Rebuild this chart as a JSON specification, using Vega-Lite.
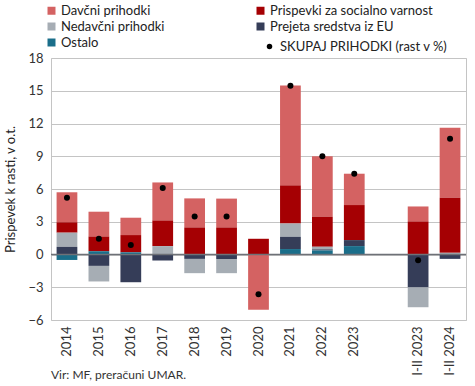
{
  "$schema": "https://vega.github.io/schema/vega-lite/v6.json",
  "autosize": {"type": "none"},
  "width": 415,
  "height": 262,
  "padding": {"left": 51, "top": 58, "right": 9, "bottom": 66},
  "config": {
    "font": "Lato",
    "view": {"stroke": "#c4c4c4", "strokeWidth": 1},
    "axis": {"labelFont": "Lato", "titleFont": "Lato", "labelColor": "#333333", "titleColor": "#222222", "domain": false, "ticks": false}
  },
  "title": {"text": "Vir: MF, preračuni UMAR.", "orient": "bottom", "anchor": "start", "frame": "group", "fontSize": 12, "fontWeight": "normal", "font": "Lato", "color": "#333333", "offset": -5},
  "datasets": {
    "parts": [
      {"cat": "2014", "comp": "Davčni prihodki", "val": 2.75, "o": 5},
      {"cat": "2014", "comp": "Prispevki za socialno varnost", "val": 0.95, "o": 4},
      {"cat": "2014", "comp": "Nedavčni prihodki", "val": 1.3, "o": 3},
      {"cat": "2014", "comp": "Prejeta sredstva iz EU", "val": 0.7, "o": 2},
      {"cat": "2014", "comp": "Ostalo", "val": -0.5, "o": 1},
      {"cat": "2015", "comp": "Davčni prihodki", "val": 2.27, "o": 5},
      {"cat": "2015", "comp": "Prispevki za socialno varnost", "val": 1.35, "o": 4},
      {"cat": "2015", "comp": "Nedavčni prihodki", "val": -1.43, "o": 3},
      {"cat": "2015", "comp": "Prejeta sredstva iz EU", "val": -1.04, "o": 2},
      {"cat": "2015", "comp": "Ostalo", "val": 0.3, "o": 1},
      {"cat": "2016", "comp": "Davčni prihodki", "val": 1.59, "o": 5},
      {"cat": "2016", "comp": "Prispevki za socialno varnost", "val": 1.58, "o": 4},
      {"cat": "2016", "comp": "Nedavčni prihodki", "val": 0.0, "o": 3},
      {"cat": "2016", "comp": "Prejeta sredstva iz EU", "val": -2.54, "o": 2},
      {"cat": "2016", "comp": "Ostalo", "val": 0.2, "o": 1},
      {"cat": "2017", "comp": "Davčni prihodki", "val": 3.48, "o": 5},
      {"cat": "2017", "comp": "Prispevki za socialno varnost", "val": 2.35, "o": 4},
      {"cat": "2017", "comp": "Nedavčni prihodki", "val": 0.77, "o": 3},
      {"cat": "2017", "comp": "Prejeta sredstva iz EU", "val": -0.55, "o": 2},
      {"cat": "2017", "comp": "Ostalo", "val": 0.0, "o": 1},
      {"cat": "2018", "comp": "Davčni prihodki", "val": 2.66, "o": 5},
      {"cat": "2018", "comp": "Prispevki za socialno varnost", "val": 2.48, "o": 4},
      {"cat": "2018", "comp": "Nedavčni prihodki", "val": -1.31, "o": 3},
      {"cat": "2018", "comp": "Prejeta sredstva iz EU", "val": -0.4, "o": 2},
      {"cat": "2018", "comp": "Ostalo", "val": 0.0, "o": 1},
      {"cat": "2019", "comp": "Davčni prihodki", "val": 2.64, "o": 5},
      {"cat": "2019", "comp": "Prispevki za socialno varnost", "val": 2.48, "o": 4},
      {"cat": "2019", "comp": "Nedavčni prihodki", "val": -1.3, "o": 3},
      {"cat": "2019", "comp": "Prejeta sredstva iz EU", "val": -0.41, "o": 2},
      {"cat": "2019", "comp": "Ostalo", "val": 0.0, "o": 1},
      {"cat": "2020", "comp": "Davčni prihodki", "val": -5.07, "o": 5},
      {"cat": "2020", "comp": "Prispevki za socialno varnost", "val": 1.44, "o": 4},
      {"cat": "2020", "comp": "Nedavčni prihodki", "val": 0.0, "o": 3},
      {"cat": "2020", "comp": "Prejeta sredstva iz EU", "val": 0.0, "o": 2},
      {"cat": "2020", "comp": "Ostalo", "val": 0.0, "o": 1},
      {"cat": "2021", "comp": "Davčni prihodki", "val": 9.15, "o": 5},
      {"cat": "2021", "comp": "Prispevki za socialno varnost", "val": 3.49, "o": 4},
      {"cat": "2021", "comp": "Nedavčni prihodki", "val": 1.22, "o": 3},
      {"cat": "2021", "comp": "Prejeta sredstva iz EU", "val": 1.12, "o": 2},
      {"cat": "2021", "comp": "Ostalo", "val": 0.5, "o": 1},
      {"cat": "2022", "comp": "Davčni prihodki", "val": 5.53, "o": 5},
      {"cat": "2022", "comp": "Prispevki za socialno varnost", "val": 2.75, "o": 4},
      {"cat": "2022", "comp": "Nedavčni prihodki", "val": 0.24, "o": 3},
      {"cat": "2022", "comp": "Prejeta sredstva iz EU", "val": 0.1, "o": 2},
      {"cat": "2022", "comp": "Ostalo", "val": 0.37, "o": 1},
      {"cat": "2023", "comp": "Davčni prihodki", "val": 2.87, "o": 5},
      {"cat": "2023", "comp": "Prispevki za socialno varnost", "val": 3.21, "o": 4},
      {"cat": "2023", "comp": "Nedavčni prihodki", "val": 0.0, "o": 3},
      {"cat": "2023", "comp": "Prejeta sredstva iz EU", "val": 0.55, "o": 2},
      {"cat": "2023", "comp": "Ostalo", "val": 0.77, "o": 1},
      {"cat": "I-II 2023", "comp": "Davčni prihodki", "val": 1.37, "o": 5},
      {"cat": "I-II 2023", "comp": "Prispevki za socialno varnost", "val": 3.03, "o": 4},
      {"cat": "I-II 2023", "comp": "Nedavčni prihodki", "val": -1.84, "o": 3},
      {"cat": "I-II 2023", "comp": "Prejeta sredstva iz EU", "val": -2.99, "o": 2},
      {"cat": "I-II 2023", "comp": "Ostalo", "val": 0.0, "o": 1},
      {"cat": "I-II 2024", "comp": "Davčni prihodki", "val": 6.42, "o": 5},
      {"cat": "I-II 2024", "comp": "Prispevki za socialno varnost", "val": 5.05, "o": 4},
      {"cat": "I-II 2024", "comp": "Nedavčni prihodki", "val": 0.15, "o": 3},
      {"cat": "I-II 2024", "comp": "Prejeta sredstva iz EU", "val": -0.4, "o": 2},
      {"cat": "I-II 2024", "comp": "Ostalo", "val": 0.0, "o": 1}
    ],
    "totals": [
      {"cat": "2014", "total": 5.2, "s": "SKUPAJ PRIHODKI (rast v %)"},
      {"cat": "2015", "total": 1.44, "s": "SKUPAJ PRIHODKI (rast v %)"},
      {"cat": "2016", "total": 0.86, "s": "SKUPAJ PRIHODKI (rast v %)"},
      {"cat": "2017", "total": 6.09, "s": "SKUPAJ PRIHODKI (rast v %)"},
      {"cat": "2018", "total": 3.49, "s": "SKUPAJ PRIHODKI (rast v %)"},
      {"cat": "2019", "total": 3.49, "s": "SKUPAJ PRIHODKI (rast v %)"},
      {"cat": "2020", "total": -3.63, "s": "SKUPAJ PRIHODKI (rast v %)"},
      {"cat": "2021", "total": 15.45, "s": "SKUPAJ PRIHODKI (rast v %)"},
      {"cat": "2022", "total": 8.99, "s": "SKUPAJ PRIHODKI (rast v %)"},
      {"cat": "2023", "total": 7.4, "s": "SKUPAJ PRIHODKI (rast v %)"},
      {"cat": "I-II 2023", "total": -0.52, "s": "SKUPAJ PRIHODKI (rast v %)"},
      {"cat": "I-II 2024", "total": 10.6, "s": "SKUPAJ PRIHODKI (rast v %)"}
    ]
  },
  "layer": [
    {
      "data": {"name": "parts"},
      "mark": {"type": "bar"},
      "encoding": {
        "x": {
          "field": "cat", "type": "nominal",
          "scale": {"domain": ["2014","2015","2016","2017","2018","2019","2020","2021","2022","2023"," ","I-II 2023","I-II 2024"], "paddingInner": 0.35, "paddingOuter": 0.175},
          "axis": {"title": null, "labelAngle": -90, "labelFontSize": 13, "labelPadding": 6, "grid": false}
        },
        "y": {
          "field": "val", "type": "quantitative", "stack": "zero",
          "scale": {"domain": [-6, 18], "nice": false, "zero": false},
          "axis": {"title": "Prispevek k rasti, v o.t.", "titleFontSize": 13, "titleFontWeight": "normal", "titlePadding": 10, "values": [-6,-3,0,3,6,9,12,15,18], "tickCount": 9, "labelOverlap": false, "labelFontSize": 13, "labelPadding": 8, "gridColor": "#c4c4c4", "gridWidth": 1}
        },
        "color": {
          "field": "comp", "type": "nominal",
          "scale": {
            "domain": ["Davčni prihodki", "Nedavčni prihodki", "Ostalo", "Prispevki za socialno varnost", "Prejeta sredstva iz EU"],
            "range": ["#d46262", "#a6adb4", "#1a6e8a", "#a50003", "#353d58"]
          },
          "legend": {
            "title": null, "orient": "none", "legendX": -6, "legendY": -54, "columns": 2, "columnPadding": 89, "rowPadding": 2,
            "symbolType": "square", "symbolSize": 64, "symbolStrokeWidth": 0, "labelFontSize": 13, "labelFont": "Lato", "labelColor": "#222222", "labelOffset": 3, "labelLimit": 300
          }
        },
        "order": {"field": "o", "type": "quantitative", "sort": "ascending"}
      }
    },
    {
      "data": {"values": [{"z": 0}]},
      "mark": {"type": "rule", "color": "#6e7177", "strokeWidth": 1.5},
      "encoding": {"y": {"field": "z", "type": "quantitative"}}
    },
    {
      "data": {"name": "totals"},
      "mark": {"type": "point", "filled": true, "color": "black", "opacity": 1, "size": 36},
      "encoding": {
        "x": {"field": "cat", "type": "nominal"},
        "y": {"field": "total", "type": "quantitative"},
        "shape": {
          "field": "s", "type": "nominal",
          "scale": {"range": ["circle"]},
          "legend": {"title": null, "orient": "none", "legendX": 212, "legendY": -18, "symbolSize": 30, "symbolFillColor": "black", "symbolStrokeWidth": 0, "labelFontSize": 13, "labelFont": "Lato", "labelColor": "#222222", "labelOffset": 4, "labelLimit": 300}
        }
      }
    }
  ]
}
